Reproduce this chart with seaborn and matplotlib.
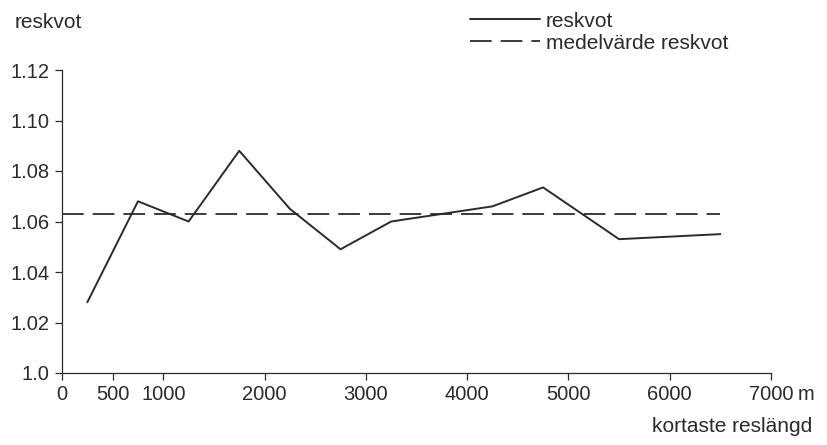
"""Reskvot mot kortaste reslängd, med medelvärde."""

import matplotlib
matplotlib.use("Agg")
import matplotlib.pyplot as plt
import pandas as pd
import seaborn as sns

# Data
reslangd = [250, 750, 1250, 1750, 2250, 2750, 3250, 3750, 4250, 4750, 5500, 6500]
reskvot = [1.028, 1.068, 1.060, 1.088, 1.065, 1.049, 1.060, 1.063, 1.066, 1.0735, 1.053, 1.055]
medel_reskvot = 1.063

x_ticks = [0, 500, 1000, 2000, 3000, 4000, 5000, 6000, 7000]
x_ticklabels = ["0", "500", "1000", "2000", "3000", "4000", "5000", "6000", "7000"]
y_ticks = [1.0, 1.02, 1.04, 1.06, 1.08, 1.10, 1.12]
y_ticklabels = ["1.0", "1.02", "1.04", "1.06", "1.08", "1.10", "1.12"]

INK = "#2b2b2b"

sns.set_style("ticks")
plt.rcParams["font.family"] = ["Liberation Sans", "DejaVu Sans"]
plt.rcParams["text.color"] = INK

df = pd.DataFrame({"reslangd": reslangd, "reskvot": reskvot})

fig = plt.figure(figsize=(8.28, 4.45), dpi=100)
ax = fig.add_axes([62 / 828, 1 - 373 / 445, (771 - 62) / 828, (373 - 70) / 445])

sns.lineplot(data=df, x="reslangd", y="reskvot", ax=ax, color=INK,
             linewidth=1.4, label="reskvot")
ax.hlines(medel_reskvot, 0, reslangd[-1], colors=INK, linewidth=1.3,
          linestyles=(0, (12, 5)), label="medelvärde reskvot")

ax.set_xlim(0, 7000)
ax.set_ylim(1.0, 1.12)
ax.set_xticks(x_ticks)
ax.set_xticklabels(x_ticklabels)
ax.set_yticks(y_ticks)
ax.set_yticklabels(y_ticklabels)
ax.tick_params(axis="both", direction="out", length=5, width=0.9, color=INK,
               labelsize=14.5, labelcolor=INK, pad=4)
ax.set_xlabel("")
ax.set_ylabel("")
sns.despine(ax=ax)
for side in ("left", "bottom"):
    ax.spines[side].set_linewidth(0.9)
    ax.spines[side].set_color(INK)

# unit after the last tick label
ax.annotate("m", xy=(7000, 0), xycoords=("data", "axes fraction"),
            xytext=(19, -8.5), textcoords="offset points",
            ha="left", va="top", fontsize=14.5, color=INK)

fig.text(15 / 828, 1 - 28 / 445, "reskvot", fontsize=15, va="baseline", ha="left")
fig.text(812 / 828, 1 - 432 / 445, "kortaste reslängd", fontsize=15,
         va="baseline", ha="right")

leg = ax.legend(loc="upper left", bbox_to_anchor=(455 / 828, 1 + 3 / 445),
                bbox_transform=fig.transFigure, frameon=False, fontsize=15,
                handlelength=3.4, handletextpad=0.25, labelspacing=0.15,
                borderpad=0.2)
for txt in leg.get_texts():
    txt.set_color(INK)

fig.savefig("out.png", dpi=100, facecolor="white")
plt.close(fig)
